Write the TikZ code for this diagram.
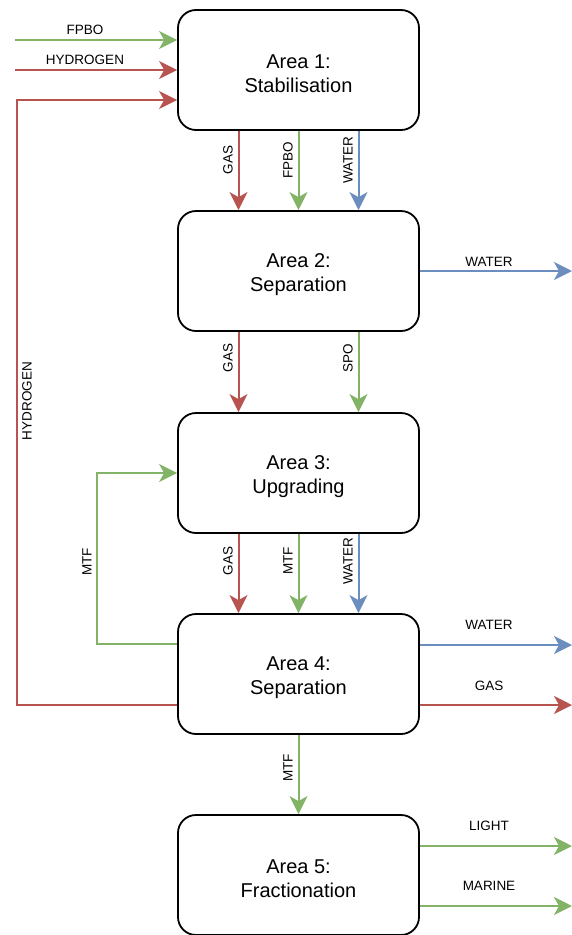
\documentclass[tikz,border=0pt]{standalone}
\usepackage{fontspec}
\setmainfont{Liberation Sans}
\usetikzlibrary{arrows.meta}
\definecolor{cgreen}{HTML}{82B366}
\definecolor{cred}{HTML}{B85450}
\definecolor{cblue}{HTML}{6C8EBF}
\tikzset{
  area/.style={draw=black, line width=1.8pt, rounded corners=18pt, minimum width=241pt, minimum height=120pt, inner sep=0pt},
  atext/.style={align=center, font=\fontsize{20}{24}\selectfont, inner sep=0pt, yshift=-4pt},
  flow/.style={line width=2pt, -{Stealth[length=18pt,width=18pt,inset=5pt]}},
  gflow/.style={flow, draw=cgreen, color=cgreen},
  rflow/.style={flow, draw=cred, color=cred},
  bflow/.style={flow, draw=cblue, color=cblue},
  lbl/.style={font=\fontsize{13.5}{16}\selectfont, inner sep=0pt},
  vlbl/.style={lbl, rotate=90},
}
\begin{document}
\begin{tikzpicture}[x=1pt,y=-1pt]
\useasboundingbox (0,0) rectangle (572,935);
% boxes
\node[area, label={[atext]center:{Area 1:\\Stabilisation}}] (a1) at (298.5,70) {};
\node[area, label={[atext]center:{Area 2:\\Separation}}] (a2) at (298.5,271) {};
\node[area, label={[atext]center:{Area 3:\\Upgrading}}] (a3) at (298.5,473) {};
\node[area, label={[atext]center:{Area 4:\\Separation}}] (a4) at (298.5,674) {};
\node[area, label={[atext]center:{Area 5:\\Fractionation}}] (a5) at (298.5,875) {};
% free ends
\coordinate (inF) at (15,40);
\coordinate (inH) at (15,70);
\coordinate (loopH) at (17,100);
\coordinate (loopM) at (97,473);
\coordinate (outW2) at (572,271);
\coordinate (outW4) at (572,645);
\coordinate (outG4) at (572,705);
\coordinate (outL5) at (572,846);
\coordinate (outM5) at (572,906);
% inputs to area 1
\draw[gflow] (inF) -- (inF -| a1.west);
\draw[rflow] (inH) -- (inH -| a1.west);
\draw[rflow] ([yshift=-31pt]a4.west) -| (loopH) -- (loopH -| a1.west);
% area 1 -> area 2
\draw[rflow] ([xshift=-60pt]a1.south) -- ([xshift=-60pt]a2.north);
\draw[gflow] (a1.south) -- (a2.north);
\draw[bflow] ([xshift=60pt]a1.south) -- ([xshift=60pt]a2.north);
% area 2 -> area 3
\draw[rflow] ([xshift=-60pt]a2.south) -- ([xshift=-60pt]a3.north);
\draw[gflow] ([xshift=60pt]a2.south) -- ([xshift=60pt]a3.north);
\draw[bflow] (a2.east) -- (outW2);
% area 3 -> area 4
\draw[rflow] ([xshift=-60pt]a3.south) -- ([xshift=-60pt]a4.north);
\draw[gflow] (a3.south) -- (a4.north);
\draw[bflow] ([xshift=60pt]a3.south) -- ([xshift=60pt]a4.north);
% MTF loop
\draw[gflow] ([yshift=30pt]a4.west) -| (loopM) -- (a3.west);
% area 4 outputs
\draw[bflow] ([yshift=29pt]a4.east) -- (outW4);
\draw[rflow] ([yshift=-31pt]a4.east) -- (outG4);
\draw[gflow] (a4.south) -- (a5.north);
% area 5 outputs
\draw[gflow] ([yshift=29pt]a5.east) -- (outL5);
\draw[gflow] ([yshift=-31pt]a5.east) -- (outM5);
% labels
\node[lbl] (lF) at (85,30) {FPBO};
\node[lbl] (lH) at (85,60) {HYDROGEN};
\node[vlbl] (lHv) at (27,401) {HYDROGEN};
\node[vlbl] (l12g) at (228,160) {GAS};
\node[vlbl] (l12f) at (288,160) {FPBO};
\node[vlbl] (l12w) at (348,160) {WATER};
\node[vlbl] (l23g) at (228,358) {GAS};
\node[vlbl] (l23s) at (348,358) {SPO};
\node[lbl] (l2w) at (489,262) {WATER};
\node[vlbl] (l34g) at (228,561) {GAS};
\node[vlbl] (l34m) at (288,561) {MTF};
\node[vlbl] (l34w) at (348,561) {WATER};
\node[vlbl] (lmtf) at (87,562) {MTF};
\node[lbl] (l4w) at (489,625) {WATER};
\node[lbl] (l4g) at (489,686) {GAS};
\node[vlbl] (l45m) at (288,768) {MTF};
\node[lbl] (l5l) at (489,826) {LIGHT};
\node[lbl] (l5m) at (489,886) {MARINE};
\end{tikzpicture}
\end{document}
